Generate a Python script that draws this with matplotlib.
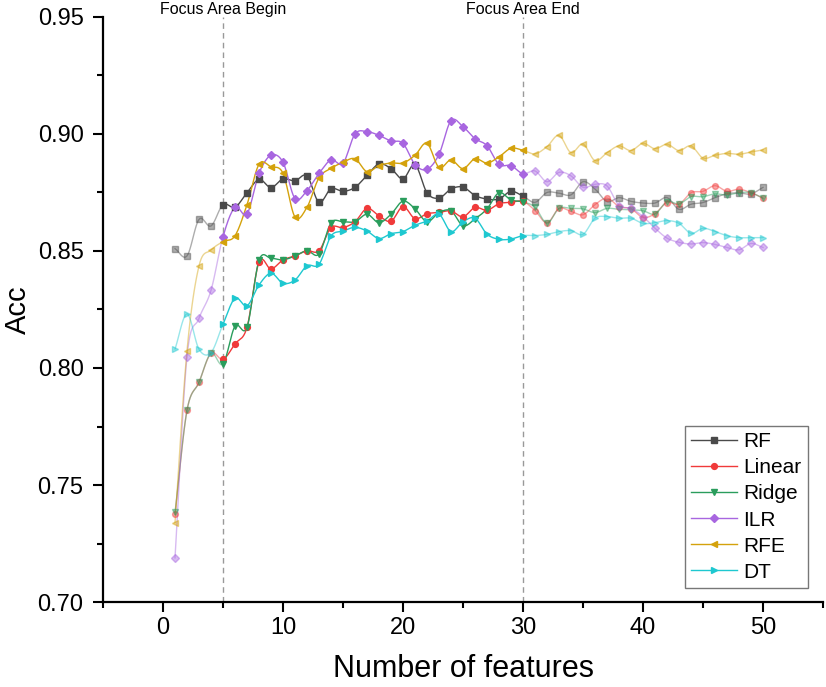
import numpy as np
import matplotlib.pyplot as plt
from matplotlib.lines import Line2D

plt.rcParams['font.family'] = ['Liberation Sans', 'DejaVu Sans']

# ---- data ----
n_features = list(range(1, 51))

rf = [0.8510, 0.8479, 0.8635, 0.8607, 0.8698, 0.8687, 0.8749, 0.8806, 0.8771, 0.8808,
      0.8800, 0.8821, 0.8708, 0.8766, 0.8755, 0.8772, 0.8823, 0.8872, 0.8852, 0.8808,
      0.8869, 0.8749, 0.8726, 0.8765, 0.8773, 0.8737, 0.8722, 0.8722, 0.8755, 0.8734,
      0.8708, 0.8750, 0.8747, 0.8740, 0.8796, 0.8765, 0.8711, 0.8728, 0.8712, 0.8705,
      0.8705, 0.8728, 0.8678, 0.8700, 0.8707, 0.8728, 0.8745, 0.8748, 0.8744, 0.8772]

linear = [0.7375, 0.7819, 0.7939, 0.8063, 0.8037, 0.8103, 0.8174, 0.8453, 0.8423, 0.8462,
          0.8479, 0.8501, 0.8501, 0.8600, 0.8600, 0.8625, 0.8682, 0.8650, 0.8627, 0.8690,
          0.8638, 0.8659, 0.8665, 0.8671, 0.8646, 0.8686, 0.8674, 0.8702, 0.8708, 0.8712,
          0.8673, 0.8620, 0.8682, 0.8669, 0.8655, 0.8698, 0.8726, 0.8690, 0.8681, 0.8643,
          0.8660, 0.8707, 0.8700, 0.8749, 0.8755, 0.8779, 0.8755, 0.8764, 0.8749, 0.8726]

ridge = [0.7383, 0.7819, 0.7939, 0.8063, 0.8017, 0.8179, 0.8174, 0.8460, 0.8469, 0.8462,
         0.8479, 0.8501, 0.8487, 0.8620, 0.8625, 0.8625, 0.8657, 0.8621, 0.8657, 0.8713,
         0.8680, 0.8625, 0.8664, 0.8672, 0.8608, 0.8637, 0.8680, 0.8749, 0.8718, 0.8710,
         0.8687, 0.8619, 0.8682, 0.8682, 0.8680, 0.8664, 0.8682, 0.8678, 0.8676, 0.8672,
         0.8658, 0.8711, 0.8701, 0.8732, 0.8732, 0.8744, 0.8739, 0.8749, 0.8749, 0.8725]

ilr = [0.7189, 0.8048, 0.8212, 0.8332, 0.8561, 0.8687, 0.8658, 0.8832, 0.8909, 0.8879,
       0.8724, 0.8758, 0.8832, 0.8889, 0.8875, 0.9000, 0.9010, 0.8994, 0.8970, 0.8960,
       0.8869, 0.8849, 0.8913, 0.9057, 0.9031, 0.8980, 0.8950, 0.8870, 0.8865, 0.8830,
       0.8842, 0.8796, 0.8836, 0.8821, 0.8772, 0.8785, 0.8778, 0.8694, 0.8682, 0.8647,
       0.8597, 0.8555, 0.8537, 0.8530, 0.8536, 0.8528, 0.8515, 0.8505, 0.8532, 0.8515]

rfe = [0.7339, 0.8074, 0.8436, 0.8504, 0.8540, 0.8565, 0.8698, 0.8870, 0.8860, 0.8832,
       0.8645, 0.8687, 0.8813, 0.8853, 0.8879, 0.8894, 0.8839, 0.8865, 0.8876, 0.8876,
       0.8909, 0.8960, 0.8857, 0.8889, 0.8852, 0.8894, 0.8876, 0.8902, 0.8939, 0.8930,
       0.8915, 0.8946, 0.8994, 0.8920, 0.8957, 0.8886, 0.8920, 0.8949, 0.8929, 0.8960,
       0.8937, 0.8956, 0.8929, 0.8949, 0.8897, 0.8909, 0.8917, 0.8913, 0.8923, 0.8932]

dt = [0.8081, 0.8231, 0.8080, 0.8066, 0.8187, 0.8298, 0.8266, 0.8355, 0.8405, 0.8362,
      0.8376, 0.8437, 0.8443, 0.8564, 0.8585, 0.8601, 0.8585, 0.8553, 0.8574, 0.8583,
      0.8610, 0.8628, 0.8657, 0.8583, 0.8625, 0.8640, 0.8572, 0.8550, 0.8551, 0.8566,
      0.8566, 0.8571, 0.8583, 0.8587, 0.8571, 0.8640, 0.8647, 0.8640, 0.8640, 0.8618,
      0.8621, 0.8630, 0.8618, 0.8575, 0.8597, 0.8583, 0.8565, 0.8557, 0.8557, 0.8557]

series_names = ['RF', 'Linear', 'Ridge', 'ILR', 'RFE', 'DT']
focus_begin, focus_end = 5, 30

styles = [('#4a4a4a', 's'), ('#f03a3a', 'o'), ('#2a9d5c', 'v'),
          ('#a866e0', 'D'), ('#d4a20c', '<'), ('#1ec8d0', '>')]


def spline_path(x, y, steps=12):
    # catmull-rom just for drawing the connecting line smoothly
    x = np.asarray(x, float); y = np.asarray(y, float)
    px = np.concatenate(([2 * x[0] - x[1]], x, [2 * x[-1] - x[-2]]))
    py = np.concatenate(([2 * y[0] - y[1]], y, [2 * y[-1] - y[-2]]))
    xs, ys, seg = [], [], []
    t = np.linspace(0, 1, steps, endpoint=False)
    for i in range(len(x) - 1):
        p0, p1, p2, p3 = py[i], py[i + 1], py[i + 2], py[i + 3]
        yy = 0.5 * ((2 * p1) + (-p0 + p2) * t + (2 * p0 - 5 * p1 + 4 * p2 - p3) * t ** 2
                    + (-p0 + 3 * p1 - 3 * p2 + p3) * t ** 3)
        xs.append(x[i] + (x[i + 1] - x[i]) * t); ys.append(yy); seg.append(np.full(steps, x[i]))
    xs.append([x[-1]]); ys.append([y[-1]]); seg.append([x[-1]])
    return np.concatenate(xs), np.concatenate(ys), np.concatenate(seg)


fig = plt.figure(figsize=(8.26, 6.87), dpi=100)
ax = fig.add_axes([0.1247, 0.1237, 0.8717, 0.8516])

all_series = [rf, linear, ridge, ilr, rfe, dt]
x = np.array(n_features)
faded = 0.45
handles = []
for name, vals, (col, mk) in zip(series_names, all_series, styles):
    vals = np.array(vals)
    sx, sy, seg = spline_path(x, vals)
    parts = [sx <= focus_begin, (sx >= focus_begin) & (sx <= focus_end), sx >= focus_end]
    for k, m in enumerate(parts):
        a = 1.0 if k == 1 else faded
        ax.plot(sx[m], sy[m], color=col, lw=1.0, alpha=a, zorder=2)
    inside = (x >= focus_begin) & (x <= focus_end)
    ms = 4.2 if mk != 'D' else 3.6
    ax.plot(x[inside], vals[inside], ls='none', marker=mk, color=col, ms=ms, zorder=3)
    ax.plot(x[~inside], vals[~inside], ls='none', marker=mk, color=col, ms=ms, alpha=faded,
            zorder=3)
    handles.append(Line2D([], [], color=col, lw=1.0, marker=mk, ms=ms, label=name))

for xv, txt in [(focus_begin, 'Focus Area Begin'), (focus_end, 'Focus Area End')]:
    ax.axvline(xv, color='#999999', lw=1.0, ls=(0, (4, 3)), zorder=1)
    ax.text(xv, 0.9512, txt, ha='center', va='baseline', fontsize=11.5)

ax.set_xlim(-5, 55)
ax.set_ylim(0.70, 0.95)
ax.set_xticks([0, 10, 20, 30, 40, 50])
ax.set_xticks([-5, 5, 15, 25, 35, 45, 55], minor=True)
ax.set_yticks([0.70, 0.75, 0.80, 0.85, 0.90, 0.95])
ax.set_yticklabels(['0.70', '0.75', '0.80', '0.85', '0.90', '0.95'])
ax.set_yticks(np.arange(0.725, 0.95, 0.05), minor=True)
for s in ['top', 'right']:
    ax.spines[s].set_visible(False)
for s in ['left', 'bottom']:
    ax.spines[s].set_linewidth(1.6)
ax.tick_params(which='major', direction='out', length=7, width=1.5, labelsize=17)
ax.tick_params(which='minor', direction='out', length=4, width=1.5)
ax.tick_params(axis='y', which='major', pad=7)
ax.set_xlabel('Number of features', fontsize=22, labelpad=11)
ax.set_ylabel('Acc', fontsize=21, labelpad=4)

leg = ax.legend(handles=handles, loc='lower right', bbox_to_anchor=(0.979, 0.024),
                borderaxespad=0, fontsize=15, fancybox=False, frameon=True,
                edgecolor='#555555', handlelength=2.2, handletextpad=0.3,
                labelspacing=0.34, borderpad=0.3, numpoints=1)
leg.get_frame().set_linewidth(1.0)

fig.savefig('out.png', dpi=100)
